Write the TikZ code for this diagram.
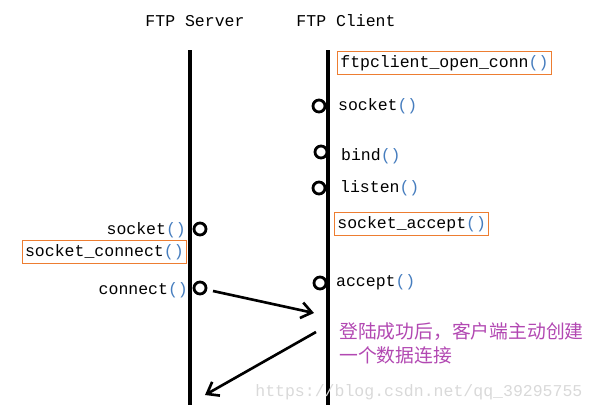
\documentclass[tikz,border=0pt]{standalone}
\usepackage{fontspec}
\setmonofont{Liberation Mono}
\newfontfamily\cjk{Noto Sans CJK SC}
\usepackage{tikz}
\usetikzlibrary{arrows.meta,positioning}
\definecolor{boxorange}{RGB}{237,125,49}
\definecolor{notepurple}{RGB}{178,72,178}
\definecolor{parenblue}{RGB}{70,125,190}
\newcommand{\fncall}[1]{#1\textcolor{parenblue}{()}}

\begin{document}
\begin{tikzpicture}[
		x=0.02cm,y=-0.02cm,
		font=\ttfamily\fontsize{9.4}{11}\selectfont,
		lifeline/.style={line width=2pt},
		callpt/.style={circle,draw,line width=1.6pt,minimum size=0.24cm,inner sep=0pt},
		fnlabel/.style={inner sep=1pt},
		fnbox/.style={draw=boxorange,line width=0.6pt,inner xsep=1.6pt,inner ysep=2.2pt},
		msg/.style={line width=1.5pt,-{Straight Barb[length=6pt,width=9pt,line width=1.5pt]}}]
		\useasboundingbox (0,0) rectangle (597,413);
		
		% Draw lifelines
		\node (srvhead) at (195,21) {FTP Server};
		\node (clihead) at (346,21) {FTP Client};
		\draw[lifeline] (190,50) coordinate (srvtop) -- (190,405) coordinate (srvbot);
		\draw[lifeline] (328,50) coordinate (clitop) -- (328,405) coordinate (clibot);
		
		% client side
		\node[fnbox,anchor=west] (openconn) at (337,63) {ftpclient\_open\_conn\textcolor{parenblue}{()}};
		\node[callpt] (csock) at (319,106) {};
		\node[fnlabel,anchor=west] (csocklbl) at (336,106) {\fncall{socket}};
		\node[callpt] (cbind) at (321,152) {};
		\node[fnlabel,anchor=west] (cbindlbl) at (339,156) {\fncall{bind}};
		\node[callpt] (clisten) at (319,188) {};
		\node[fnlabel,anchor=west] (clistenlbl) at (338,188) {\fncall{listen}};
		\node[fnbox,anchor=west] (sockaccept) at (334,224) {socket\_accept\textcolor{parenblue}{()}};
		\node[callpt] (caccept) at (320,283) {};
		\node[fnlabel,anchor=west] (cacceptlbl) at (334,282) {\fncall{accept}};
		
		% server side
		\node[callpt] (ssock) at (200,229) {};
		\node[fnlabel,anchor=east] (ssocklbl) at (188,230) {\fncall{socket}};
		\node[fnbox,anchor=east] (sockconnect) at (187,252) {socket\_connect\textcolor{parenblue}{()}};
		\node[callpt] (sconn) at (200,288) {};
		\node[fnlabel,anchor=east] (sconnlbl) at (190,290) {\fncall{connect}};
		
		% messages
		\coordinate (reqstart) at (213,291);
		\coordinate (reqend) at (314,313);
		\coordinate (datastart) at (316,332);
		\coordinate (dataend) at (205,395);
		\draw[msg] (reqstart) -- (reqend);
		\draw[msg] (datastart) -- (dataend);
		
		\node[anchor=west,align=left,inner sep=0pt,text=notepurple,
			font=\cjk\fontsize{10.7}{13.6}\selectfont] (note) at (339,343)
			{登陆成功后，客户端主动创建\\一个数据连接};
		\node[anchor=west,inner sep=0pt,text=gray!30] (mark) at (255,392)
			{https://blog.csdn.net/qq\_39295755};
\end{tikzpicture}
\end{document}
